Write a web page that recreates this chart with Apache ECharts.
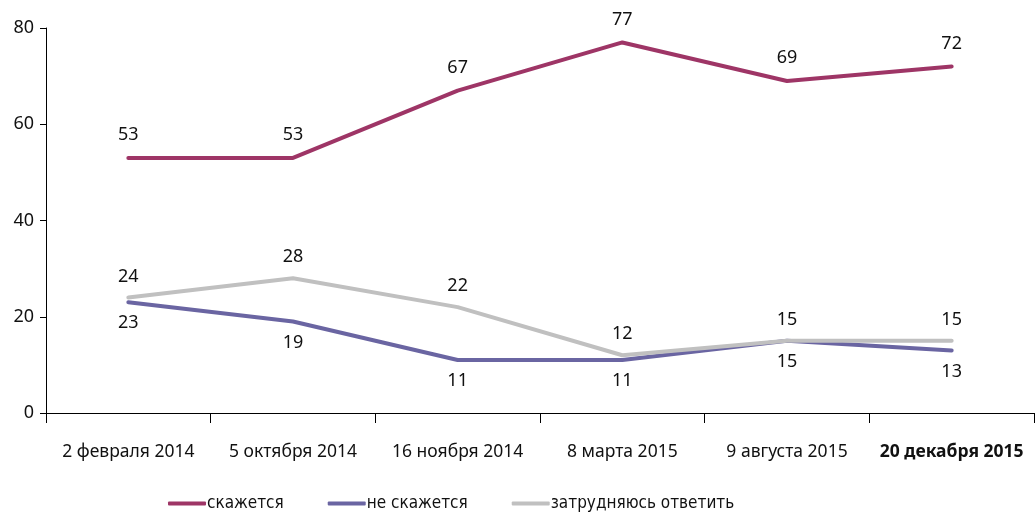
<!DOCTYPE html>
<html>
<head>
<meta charset="utf-8">
<style>
  html, body { margin: 0; padding: 0; background: #fff; }
  #chart { width: 1035px; height: 515px; }
</style>
<script src="https://cdn.jsdelivr.net/npm/echarts@6/dist/echarts.min.js"></script>
</head>
<body>
<div id="chart"></div>
<script>
// данные опроса
const dates = ['2 февраля 2014', '5 октября 2014', '16 ноября 2014', '8 марта 2015', '9 августа 2015', '20 декабря 2015'];
const willAffect = [53, 53, 67, 77, 69, 72];
const wontAffect = [23, 19, 11, 11, 15, 13];
const hardToSay = [24, 28, 22, 12, 15, 15];

const FONT = '"Noto Sans", sans-serif';
const labelStyle = { fontFamily: FONT, fontSize: 18, color: '#111' };

const chart = echarts.init(document.getElementById('chart'));

const option = {
  animation: false,
  textStyle: { fontFamily: FONT },
  grid: { left: 46, right: 1, top: 28, bottom: 102, containLabel: false },
  legend: {
    left: 163,
    bottom: -2,
    itemWidth: 38,
    itemHeight: 4,
    itemGap: 44,
    icon: 'roundRect',
    textStyle: { fontFamily: '"Liberation Sans Narrow", "DejaVu Sans Condensed", sans-serif', fontSize: 17, color: '#111', padding: [0, 0, 0, -4] },
    data: ['скажется', 'не скажется', 'затрудняюсь ответить']
  },
  xAxis: {
    type: 'category',
    data: dates,
    boundaryGap: true,
    axisLine: { lineStyle: { color: '#000', width: 1 } },
    axisTick: { show: true, length: 10, lineStyle: { color: '#000' } },
    axisLabel: {
      margin: 30,
      interval: 0,
      fontFamily: FONT,
      fontSize: 17.5,
      color: '#111',
      formatter: (v, i) => i === dates.length - 1 ? '{b|' + v + '}' : v,
      rich: { b: { fontFamily: FONT, fontSize: 17.5, fontWeight: 'bold', color: '#111' } }
    }
  },
  yAxis: {
    type: 'value',
    min: 0,
    max: 80,
    interval: 20,
    splitLine: { show: false },
    axisLine: { show: true, lineStyle: { color: '#000', width: 1 } },
    axisTick: { show: true, length: 6, lineStyle: { color: '#000' } },
    axisLabel: { margin: 12, fontFamily: FONT, fontSize: 18, color: '#111' }
  },
  series: [
    {
      name: 'скажется',
      type: 'line',
      data: willAffect,
      symbol: 'circle',
      symbolSize: 0,
      lineStyle: { width: 4, color: '#9e3566', cap: 'round' },
      itemStyle: { color: '#9e3566' },
      label: { show: true, position: 'top', distance: 14, ...labelStyle }
    },
    {
      name: 'не скажется',
      type: 'line',
      data: wontAffect,
      symbol: 'circle',
      symbolSize: 0,
      lineStyle: { width: 4, color: '#6a65a2', cap: 'round' },
      itemStyle: { color: '#6a65a2' },
      label: { show: true, position: 'bottom', distance: 12, ...labelStyle }
    },
    {
      name: 'затрудняюсь ответить',
      type: 'line',
      data: hardToSay,
      symbol: 'circle',
      symbolSize: 0,
      lineStyle: { width: 4, color: '#c0c0c0', cap: 'round' },
      itemStyle: { color: '#c0c0c0' },
      label: { show: true, position: 'top', distance: 12, ...labelStyle }
    }
  ]
};

chart.setOption(option);
</script>
</body>
</html>
